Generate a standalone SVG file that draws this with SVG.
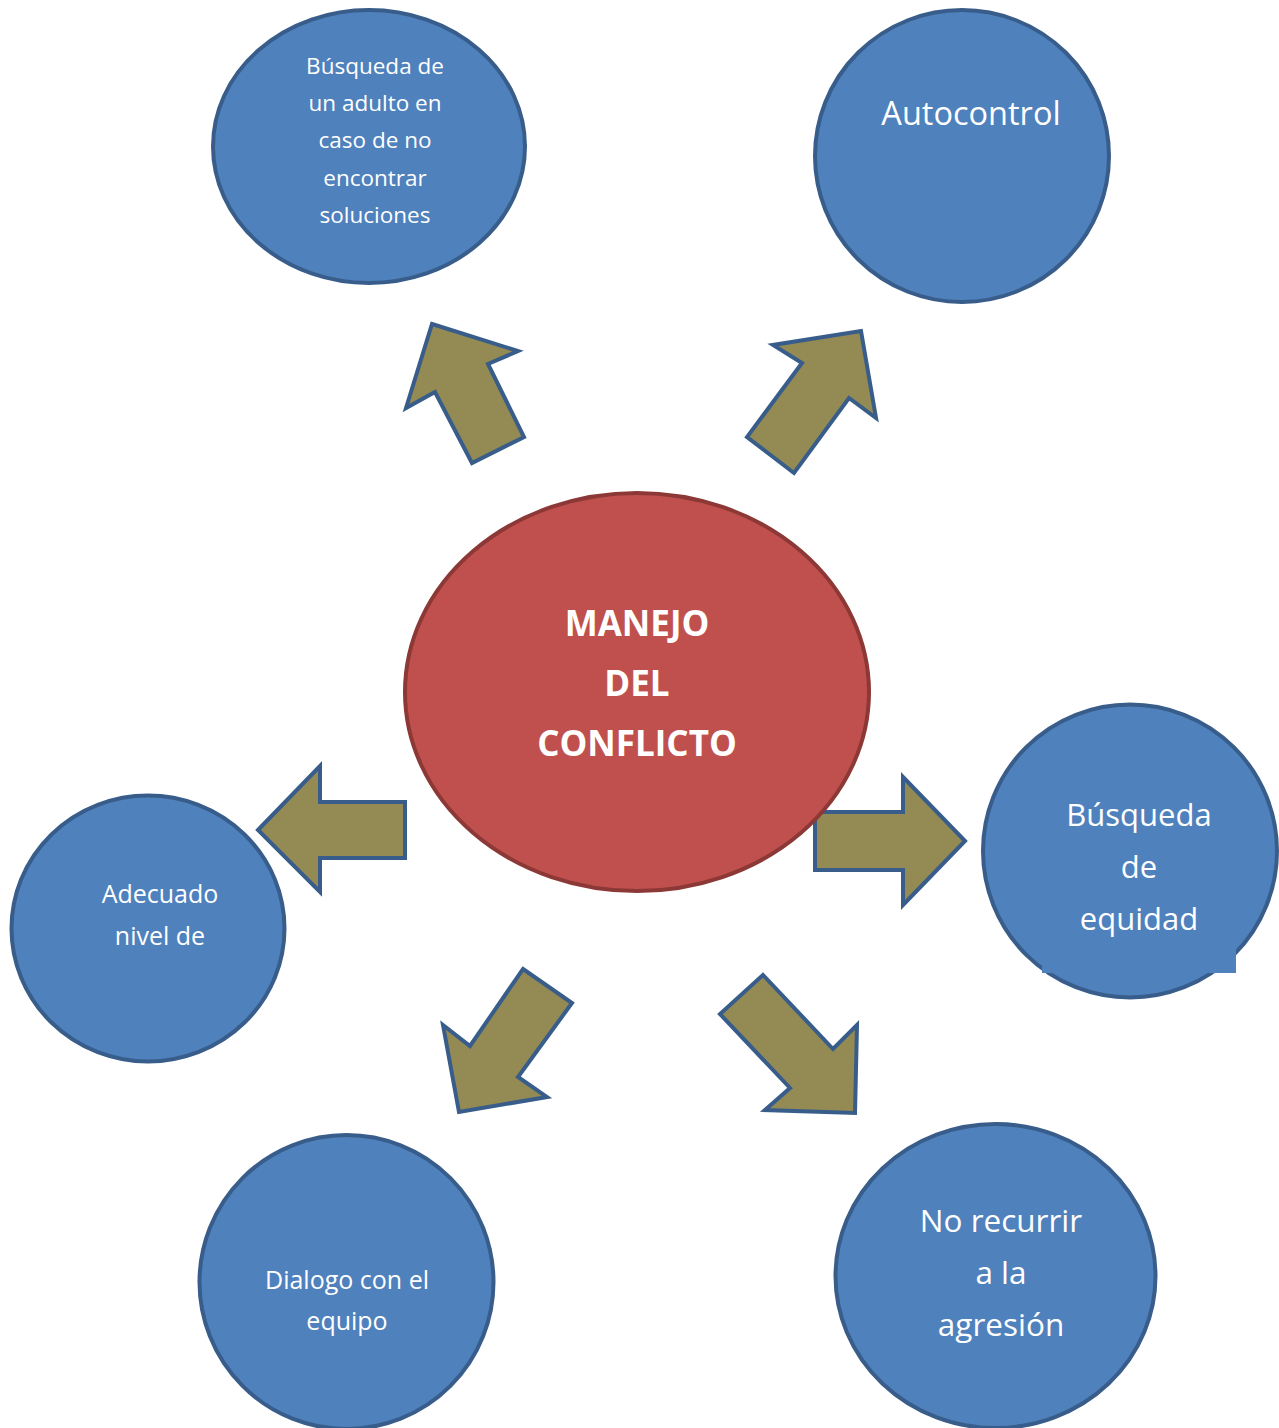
<svg xmlns="http://www.w3.org/2000/svg" width="1279" height="1428" viewBox="0 0 1279 1428">
<style>
.node{fill:#4F81BD;stroke:#385D8A;stroke-width:4}
.center{fill:#C0504D;stroke:#8C3836;stroke-width:4}
.arrow{fill:#948A54;stroke:#385D8A;stroke-width:4;stroke-linejoin:miter}
text{font-family:"Open Sans","Noto Sans",sans-serif;fill:#FFFFFF;text-anchor:middle}
.b{font-weight:bold}
</style>
<rect width="1279" height="1428" fill="#FFFFFF"/>
<g id="connectors">
<polygon class="arrow" points="432,324 518,351 488,364 524,437 472,463 435,392 406,408"/>
<polygon class="arrow" points="861,331 876,418 849,398 794,473 747,437 802,363 773,345"/>
<polygon class="arrow" points="258,830 320,766 320,802 405,802 405,858 320,858 320,892"/>
<polygon class="arrow" points="965,841 903,777 903,812 815,812 815,870 903,870 903,905"/>
<polygon class="arrow" points="523,969 572,1003 518,1077 547,1097 459,1112 443,1025 470,1046"/>
<polygon class="arrow" points="763,975 720,1014 790,1088 765,1110 855,1113 857,1025 833,1049"/>
</g>
<g id="node-busqueda-adulto">
<ellipse class="node" cx="369" cy="146.5" rx="156" ry="136.5"/>
<text font-size="22.5"><tspan x="375" y="74">Búsqueda de</tspan><tspan x="375" y="111">un adulto en</tspan><tspan x="375" y="148">caso de no</tspan><tspan x="375" y="186">encontrar</tspan><tspan x="375" y="223">soluciones</tspan></text>
</g>
<g id="node-autocontrol">
<ellipse class="node" cx="962" cy="156" rx="147" ry="146"/>
<text font-size="32.5" x="971" y="125">Autocontrol</text>
</g>
<g id="node-center">
<ellipse class="center" cx="637" cy="692" rx="232" ry="199"/>
<text class="b" font-size="35"><tspan x="637" y="636">MANEJO</tspan><tspan x="637" y="696">DEL</tspan><tspan x="637" y="756">CONFLICTO</tspan></text>
</g>
<g id="node-equidad">
<ellipse class="node" cx="1130" cy="851" rx="147" ry="146.5"/>
<rect x="1042" y="935" width="194" height="38" fill="#4F81BD"/>
<text font-size="31"><tspan x="1139" y="826">Búsqueda</tspan><tspan x="1139" y="878">de</tspan><tspan x="1139" y="930">equidad</tspan></text>
</g>
<g id="node-adecuado">
<ellipse class="node" cx="148" cy="928.5" rx="136.5" ry="133"/>
<text font-size="25"><tspan x="160" y="903">Adecuado</tspan><tspan x="160" y="945">nivel de</tspan></text>
</g>
<g id="node-dialogo">
<ellipse class="node" cx="346.5" cy="1282" rx="147" ry="147"/>
<text font-size="25"><tspan x="347" y="1289">Dialogo con el</tspan><tspan x="347" y="1330">equipo</tspan></text>
</g>
<g id="node-no-recurrir">
<ellipse class="node" cx="995.5" cy="1276" rx="160" ry="152"/>
<text font-size="31.5"><tspan x="1001" y="1232">No recurrir</tspan><tspan x="1001" y="1284">a la</tspan><tspan x="1001" y="1336">agresión</tspan></text>
</g>
</svg>
